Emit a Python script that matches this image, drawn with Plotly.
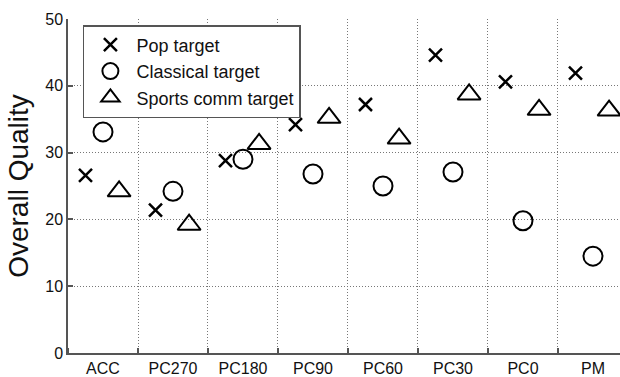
import plotly.graph_objects as go

categories = ["ACC", "PC270", "PC180", "PC90", "PC60", "PC30", "PC0", "PM"]
pop = [26.6, 21.4, 28.8, 34.2, 37.2, 44.6, 40.6, 41.9]
classical = [33.1, 24.2, 29.0, 26.8, 25.0, 27.1, 19.8, 14.5]
sports = [24.2, 19.2, 31.3, 35.2, 32.1, 38.7, 36.4, 36.3]
y_ticks = [0, 10, 20, 30, 40, 50]

idx = list(range(len(categories)))
fig = go.Figure()
series = [
    ("Pop target", pop, -0.25, "x-thin-open", 13, 2.5),
    ("Classical target", classical, 0.0, "circle-open", 19, 2),
    ("Sports comm target", sports, 0.23, "triangle-up-open", 20, 2),
]
for name, vals, off, sym, sz, lw in series:
    fig.add_trace(go.Scatter(
        x=[i + off for i in idx], y=vals, mode="markers", name=name,
        marker=dict(symbol=sym, size=sz, color="black", line=dict(color="black", width=lw)),
    ))

fig.update_layout(
    width=620, height=377,
    margin=dict(l=68, r=0, t=19, b=21),
    paper_bgcolor="white", plot_bgcolor="white",
    font=dict(family="Liberation Sans, Arial", color="#111"),
    showlegend=True,
    legend=dict(
        x=0.027, y=0.982, xanchor="left", yanchor="top",
        bgcolor="white", bordercolor="#555", borderwidth=1.5,
        font=dict(size=18, color="#111"), itemwidth=42,
        tracegroupgap=0,
    ),
)
grid_dash = "1px,2px"
fig.update_xaxes(
    range=[-0.5, 7.386],
    tickmode="array", tickvals=idx, ticktext=categories,
    ticks="", showgrid=False, zeroline=False,
    showline=True, linecolor="#555", linewidth=1.5,
    tickfont=dict(size=16, color="#111"),
    ticklabelstandoff=0,
    minor=dict(tick0=0.5, dtick=1, showgrid=True, griddash=grid_dash,
               gridcolor="#777", gridwidth=1, ticks="inside", ticklen=5,
               tickcolor="#555", tickwidth=1.5),
)
fig.update_yaxes(
    range=[0, 50], tickmode="array", tickvals=y_ticks,
    ticks="inside", ticklen=5, tickcolor="#555", tickwidth=1.5,
    showgrid=True, griddash=grid_dash, gridcolor="#777", gridwidth=1,
    zeroline=False, showline=True, linecolor="#555", linewidth=1.5,
    tickfont=dict(size=16, color="#111"),
    title=dict(text="Overall Quality", font=dict(size=28, color="#111"), standoff=8),
)
fig.write_html("out.html", config={"displayModeBar": False},
               post_script="document.body.style.margin='0';document.body.style.overflow='hidden';")
